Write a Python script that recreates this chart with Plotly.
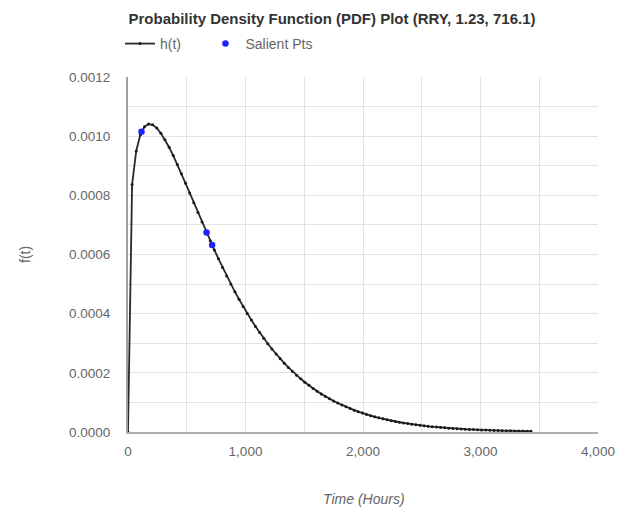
import plotly.graph_objects as go

# Time (hours) of the curve points
t_hours = [35 * k for k in range(0, 99)]
# PDF values
pdf_vals = [
    0.0, 0.000837, 0.00095015, 0.0010051, 0.0010317, 0.0010410, 0.0010383, 0.0010273, 0.0010100, 0.00098796,
    0.00096247, 0.00093435, 0.00090434, 0.00087301, 0.00084080, 0.00080810, 0.00077520, 0.00074238, 0.00070982, 0.00067770,
    0.00064616, 0.00061531, 0.00058524, 0.00055602, 0.00052770, 0.00050032, 0.00047392, 0.00044851, 0.00042409, 0.00040067,
    0.00037824, 0.00035680, 0.00033633, 0.00031681, 0.00029822, 0.00028053, 0.00026373, 0.00024779, 0.00023266, 0.00021833,
    0.00020478, 0.00019196, 0.00017984, 0.00016840, 0.00015761, 0.00014744, 0.00013786, 0.00012884, 0.00012035, 0.00011238,
    0.00010488, 0.000097846, 0.000091242, 0.000085049, 0.000079244, 0.000073805, 0.000068716, 0.000063948, 0.000059491, 0.000055325,
    0.000051433, 0.000047794, 0.000044399, 0.000041231, 0.000038274, 0.000035518, 0.000032952, 0.000030559, 0.000028330, 0.000026257,
    0.000024326, 0.000022532, 0.000020863, 0.000019312, 0.000017871, 0.000016533, 0.000015290, 0.000014137, 0.000013067, 0.000012075,
    0.000011155, 0.000010302, 0.0000095121, 0.0000087802, 0.0000081025, 0.0000074751, 0.0000068947, 0.0000063574, 0.0000058610, 0.0000054018,
    0.0000049771, 0.0000045850, 0.0000042225, 0.0000038879, 0.0000035789, 0.0000032938, 0.0000030307, 0.0000027878, 0.0000025639,
]
# Salient points
salient_t = [114.9, 668.6, 716.1]
salient_f = [0.001015, 0.000674, 0.000632]

x_ticks = [0, 1000, 2000, 3000, 4000]
y_ticks = [0.0, 0.0002, 0.0004, 0.0006, 0.0008, 0.0010, 0.0012]

FONT = "Liberation Sans, Arial, sans-serif"
GRAY = "#666666"

fig = go.Figure()
fig.add_trace(go.Scatter(
    x=t_hours, y=pdf_vals, mode="lines+markers", name="h(t)" + "\u00a0" * 5,
    line=dict(color="#2a2a2a", width=1.8),
    marker=dict(color="#1a1a1a", size=3),
))
fig.add_trace(go.Scatter(
    x=salient_t, y=salient_f, mode="markers", name="Salient Pts",
    marker=dict(color="#2020ff", size=6.5),
))

fig.update_layout(
    width=619, height=502,
    paper_bgcolor="white", plot_bgcolor="white",
    margin=dict(l=120, r=27, t=69, b=78),
    font=dict(family=FONT, size=13.5, color=GRAY),
    title=dict(text="<b>Probability Density Function (PDF) Plot (RRY, 1.23, 716.1)</b>",
               x=0.5234, xanchor="center", y=1 - 11 / 502, yanchor="middle",
               font=dict(family=FONT, size=15, color="#333333")),
    showlegend=True,
    legend=dict(orientation="h", x=-0.017, xanchor="left", y=1.093, yanchor="middle",
                font=dict(family=FONT, size=14, color=GRAY),
                itemwidth=30, bgcolor="rgba(0,0,0,0)"),
    annotations=[
        dict(text="f(t)", textangle=-90, xref="paper", yref="paper",
             x=-0.2203, y=0.5, xanchor="center", yanchor="middle", showarrow=False,
             font=dict(family=FONT, size=14, color=GRAY)),
        dict(text="<i>Time (Hours)</i>", xref="paper", yref="paper",
             x=0.502, y=-0.1887, xanchor="center", yanchor="middle", showarrow=False,
             font=dict(family=FONT, size=14, color=GRAY)),
    ],
)
fig.update_xaxes(
    range=[0, 4000], tickvals=x_ticks, tickformat=",d",
    showgrid=True, gridcolor="#e3e3e3", gridwidth=1,
    minor=dict(dtick=500, showgrid=True, gridcolor="#e3e3e3"),
    showline=True, linecolor="#b0b0b0", linewidth=2,
    zeroline=False, ticks="", ticklabelstandoff=6,
)
fig.update_yaxes(
    range=[0, 0.0012], tickvals=y_ticks, tickformat=".4f",
    showgrid=True, gridcolor="#e3e3e3", gridwidth=1,
    minor=dict(dtick=0.0001, showgrid=True, gridcolor="#e3e3e3"),
    showline=True, linecolor="#a0a0a0", linewidth=2,
    zeroline=False, ticks="", ticklabelstandoff=13,
)

fig.write_html("out.html")
